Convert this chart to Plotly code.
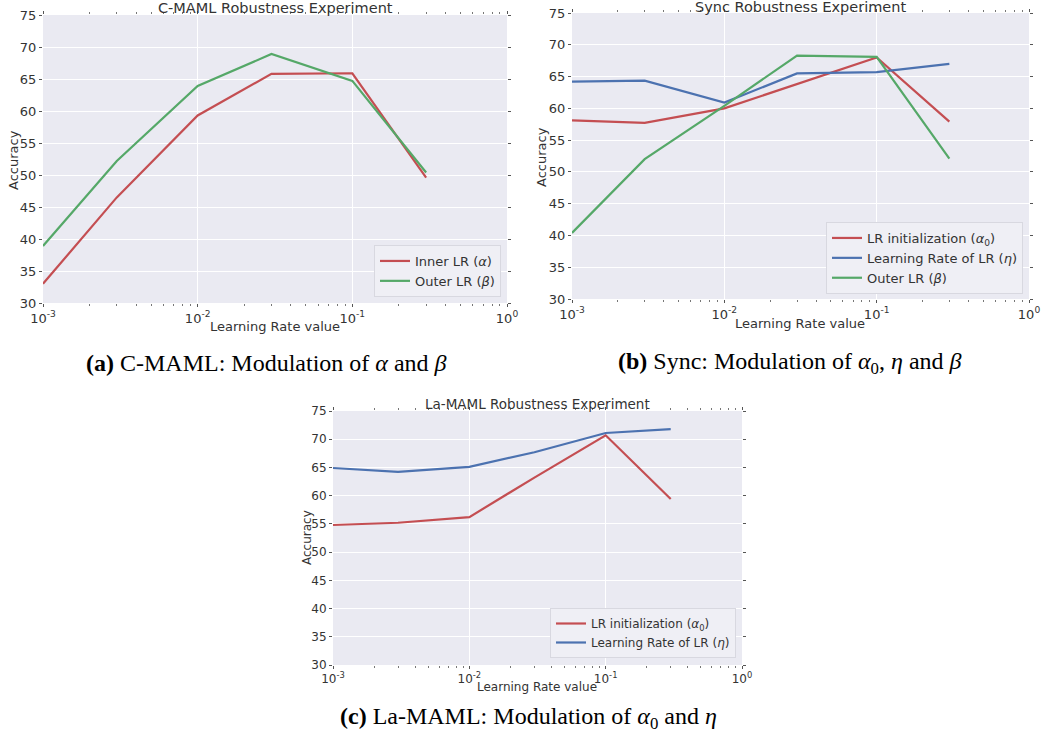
import plotly.graph_objects as go

# ---- data ----
lr_values = [0.001, 0.003, 0.01, 0.03, 0.1, 0.3]

cmaml_inner = [33.0, 46.5, 59.3, 65.8, 65.9, 49.6]
cmaml_outer = [38.9, 52.2, 63.9, 68.9, 64.7, 50.4]

sync_init = [58.1, 57.7, 60.0, 63.8, 68.0, 57.9]
sync_lrlr = [64.2, 64.35, 60.9, 65.5, 65.7, 67.0]
sync_outer = [40.4, 52.0, 60.4, 68.3, 68.1, 52.1]

lamaml_init = [54.8, 55.2, 56.2, 63.2, 70.7, 59.4]
lamaml_lrlr = [64.9, 64.2, 65.1, 67.7, 71.1, 71.8]

major_x = [0.001, 0.01, 0.1, 1.0]
major_x_text = ["10<sup>-3</sup>", "10<sup>-2</sup>", "10<sup>-1</sup>", "10<sup>0</sup>"]
y_ticks = [30, 35, 40, 45, 50, 55, 60, 65, 70, 75]

titles = ["C-MAML Robustness Experiment", "Sync Robustness Experiment", "La-MAML Robustness Experiment"]
captions = [
    "<b>(a)</b> C-MAML: Modulation of <i>α</i> and <i>β</i>",
    "<b>(b)</b> Sync: Modulation of <i>α</i><sub>0</sub>, <i>η</i> and <i>β</i>",
    "<b>(c)</b> La-MAML: Modulation of <i>α</i><sub>0</sub> and <i>η</i>",
]

RED = "#C44E52"
BLUE = "#4C72B0"
GREEN = "#55A868"
BG = "#EAEAF2"
TXT = "#333333"
FONT = "DejaVu Sans"

W, H = 1048, 738

def px(x):
    return x / W

def py(y):
    return 1 - y / H

minor_x = []
for d in [0.001, 0.01, 0.1]:
    for k in range(2, 10):
        minor_x.append(d * k)

fig = go.Figure()

series = [
    (cmaml_inner, "Inner LR (<i>α</i>)", RED, "x", "y", "legend"),
    (cmaml_outer, "Outer LR (<i>β</i>)", GREEN, "x", "y", "legend"),
    (sync_init, "LR initialization (<i>α</i><sub>0</sub>)", RED, "x2", "y2", "legend2"),
    (sync_lrlr, "Learning Rate of LR (<i>η</i>)", BLUE, "x2", "y2", "legend2"),
    (sync_outer, "Outer LR (<i>β</i>)", GREEN, "x2", "y2", "legend2"),
    (lamaml_init, "LR initialization (<i>α</i><sub>0</sub>)", RED, "x3", "y3", "legend3"),
    (lamaml_lrlr, "Learning Rate of LR (<i>η</i>)", BLUE, "x3", "y3", "legend3"),
]
for vals, name, col, xa, ya, lg in series:
    fig.add_trace(go.Scatter(x=lr_values, y=vals, mode="lines", name=name,
                             line=dict(color=col, width=2.2), xaxis=xa, yaxis=ya,
                             legend=lg))

# panel geometry (pixels): left, right, top, bottom, tick font size
panels = [
    (43, 507, 15, 303, 13),
    (572, 1029, 13, 299, 13),
    (333, 742, 411, 665, 12),
]

layout = dict(width=W, height=H, margin=dict(l=0, r=0, t=0, b=0, autoexpand=False),
              paper_bgcolor="white", plot_bgcolor=BG,
              font=dict(family=FONT, color=TXT), showlegend=True)

for i, (l, r, t, b, fs) in enumerate(panels):
    sfx = "" if i == 0 else str(i + 1)
    layout["xaxis" + sfx] = dict(
        domain=[px(l), px(r)], anchor="y" + sfx, type="log", automargin=False,
        range=[-3, 0], tickmode="array", tickvals=major_x, ticktext=major_x_text,
        showgrid=True, gridcolor="white", gridwidth=1, zeroline=False,
        showline=False, ticks="outside", ticklen=3, tickcolor="#555555",
        mirror="ticks", tickfont=dict(size=fs, family=FONT, color=TXT),
        minor=dict(tickvals=minor_x, ticks="outside", ticklen=2,
                   tickcolor="#777777", showgrid=False),
    )
    layout["yaxis" + sfx] = dict(
        domain=[py(b), py(t)], anchor="x" + sfx, range=[30, 75], automargin=False,
        tickmode="array", tickvals=y_ticks,
        showgrid=True, gridcolor="white", gridwidth=1, zeroline=False,
        showline=False, ticks="outside", ticklen=3, tickcolor="#555555",
        mirror="ticks", tickfont=dict(size=fs, family=FONT, color=TXT),
    )

legend_common = dict(bgcolor="#EFEFF5", bordercolor="#D8D8E0", borderwidth=1,
                     xanchor="right", yanchor="bottom", itemwidth=30,
                     font=dict(family=FONT, size=13, color=TXT), tracegroupgap=0)
layout["legend"] = dict(legend_common, x=px(501), y=py(297))
layout["legend2"] = dict(legend_common, x=px(1023), y=py(294))
layout["legend3"] = dict(legend_common, x=px(736), y=py(658),
                         font=dict(family=FONT, size=12, color=TXT))

fig.update_layout(**layout)

# titles
title_pos = [(275, 8, 14.5), (800, 7, 14.5), (537, 404, 13.5)]
for txt, (x, y, fs) in zip(titles, title_pos):
    fig.add_annotation(text=txt, x=px(x), y=py(y), xref="paper", yref="paper",
                       showarrow=False, xanchor="center", yanchor="middle",
                       font=dict(family=FONT, size=fs, color=TXT))

# axis titles
xt_pos = [(275, 326, 13), (800, 324, 13), (537, 687, 12)]
for x, y, fs in xt_pos:
    fig.add_annotation(text="Learning Rate value", x=px(x), y=py(y), xref="paper",
                       yref="paper", showarrow=False, xanchor="center", yanchor="middle",
                       font=dict(family=FONT, size=fs, color=TXT))
yt_pos = [(13, 160, 13), (541, 157, 13), (307, 538, 12)]
for x, y, fs in yt_pos:
    fig.add_annotation(text="Accuracy", x=px(x), y=py(y), xref="paper", yref="paper",
                       showarrow=False, xanchor="center", yanchor="middle", textangle=-90,
                       font=dict(family=FONT, size=fs, color=TXT))

# captions
cap_pos = [(266, 363), (790, 363), (528, 718)]
for txt, (x, y) in zip(captions, cap_pos):
    fig.add_annotation(text=txt, x=px(x), y=py(y), xref="paper", yref="paper",
                       showarrow=False, xanchor="center", yanchor="middle",
                       font=dict(family="Liberation Serif", size=24, color="black"))

fig.write_html("out.html", config={"displayModeBar": False},
               post_script="document.body.style.margin='0';document.body.style.padding='0';document.body.style.overflow='hidden';")
